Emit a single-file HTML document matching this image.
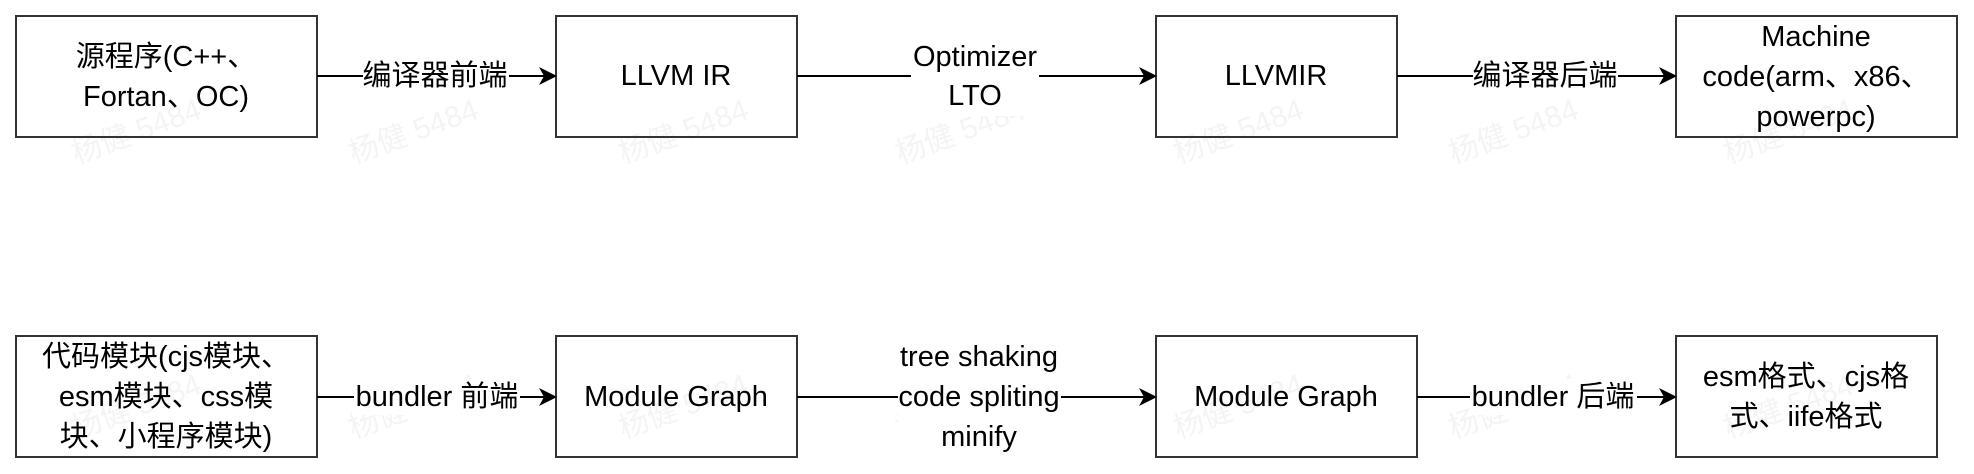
<!DOCTYPE html>
<html><head><meta charset="utf-8"><style>
body{margin:0;background:#fff;}
svg{display:block}
text{font-family:"Liberation Sans","Noto Sans CJK SC",sans-serif;font-size:29px;fill:#000;text-anchor:middle;dominant-baseline:central}
.wm{font-size:30px;fill:#f4f4f4;text-anchor:start}
</style></head><body>
<svg width="1974" height="474" viewBox="0 0 1974 474" xmlns="http://www.w3.org/2000/svg">
<g>
<text class="wm" x="73" y="155" transform="rotate(-20 73 155)">杨健 5484</text>
<text class="wm" x="350" y="155" transform="rotate(-20 350 155)">杨健 5484</text>
<text class="wm" x="620" y="155" transform="rotate(-20 620 155)">杨健 5484</text>
<text class="wm" x="897" y="155" transform="rotate(-20 897 155)">杨健 5484</text>
<text class="wm" x="1175" y="155" transform="rotate(-20 1175 155)">杨健 5484</text>
<text class="wm" x="1450" y="155" transform="rotate(-20 1450 155)">杨健 5484</text>
<text class="wm" x="1725" y="155" transform="rotate(-20 1725 155)">杨健 5484</text>
<text class="wm" x="73" y="430" transform="rotate(-20 73 430)">杨健 5484</text>
<text class="wm" x="350" y="430" transform="rotate(-20 350 430)">杨健 5484</text>
<text class="wm" x="620" y="430" transform="rotate(-20 620 430)">杨健 5484</text>
<text class="wm" x="897" y="430" transform="rotate(-20 897 430)">杨健 5484</text>
<text class="wm" x="1175" y="430" transform="rotate(-20 1175 430)">杨健 5484</text>
<text class="wm" x="1450" y="430" transform="rotate(-20 1450 430)">杨健 5484</text>
<text class="wm" x="1725" y="430" transform="rotate(-20 1725 430)">杨健 5484</text>
</g>
<g fill="none" stroke="#333" stroke-width="2">
<rect x="16" y="16" width="301" height="121"/>
<rect x="556" y="16" width="241" height="121"/>
<rect x="1156" y="16" width="241" height="121"/>
<rect x="1676" y="16" width="281" height="121"/>
<rect x="16" y="336" width="301" height="121"/>
<rect x="556" y="336" width="241" height="121"/>
<rect x="1156" y="336" width="261" height="121"/>
<rect x="1676" y="336" width="261" height="121"/>
</g>
<g stroke="#000" stroke-width="2">
<line x1="317" y1="76" x2="546" y2="76"/>
<line x1="797" y1="76" x2="1146" y2="76"/>
<line x1="1397" y1="76" x2="1666" y2="76"/>
<line x1="317" y1="397" x2="546" y2="397"/>
<line x1="797" y1="397" x2="1146" y2="397"/>
<line x1="1417" y1="397" x2="1666" y2="397"/>
</g>
<g fill="#000">
<path d="M557 76 L539 67 L544 76 L539 85 Z"/>
<path d="M1157 76 L1139 67 L1144 76 L1139 85 Z"/>
<path d="M1677 76 L1659 67 L1664 76 L1659 85 Z"/>
<path d="M557 397 L539 388 L544 397 L539 406 Z"/>
<path d="M1157 397 L1139 388 L1144 397 L1139 406 Z"/>
<path d="M1677 397 L1659 388 L1664 397 L1659 406 Z"/>
</g>
<g fill="#fff">
<rect x="363" y="58" width="146" height="36"/>
<rect x="911" y="38" width="128" height="78"/>
<rect x="1473" y="58" width="145" height="36"/>
<rect x="354" y="379" width="166" height="36"/>
<rect x="898" y="338" width="163" height="118"/>
<rect x="1470" y="379" width="167" height="36"/>
</g>
<text x="166" y="57">源程序(C++、</text>
<text x="166" y="97">Fortan、OC)</text>
<text x="435" y="76">编译器前端</text>
<text x="676" y="76">LLVM IR</text>
<text x="975" y="57">Optimizer</text>
<text x="975" y="96">LTO</text>
<text x="1276" y="76">LLVMIR</text>
<text x="1545" y="76">编译器后端</text>
<text x="1816" y="37">Machine</text>
<text x="1816" y="77">code(arm、x86、</text>
<text x="1816" y="117">powerpc)</text>
<text x="166" y="357">代码模块(cjs模块、</text>
<text x="166" y="397">esm模块、css模</text>
<text x="166" y="437">块、小程序模块)</text>
<text x="437" y="397">bundler 前端</text>
<text x="676" y="397">Module Graph</text>
<text x="979" y="357">tree shaking</text>
<text x="979" y="397">code spliting</text>
<text x="979" y="437">minify</text>
<text x="1286" y="397">Module Graph</text>
<text x="1553" y="397">bundler 后端</text>
<text x="1806" y="377">esm格式、cjs格</text>
<text x="1806" y="417">式、iife格式</text>
</svg>
</body></html>
